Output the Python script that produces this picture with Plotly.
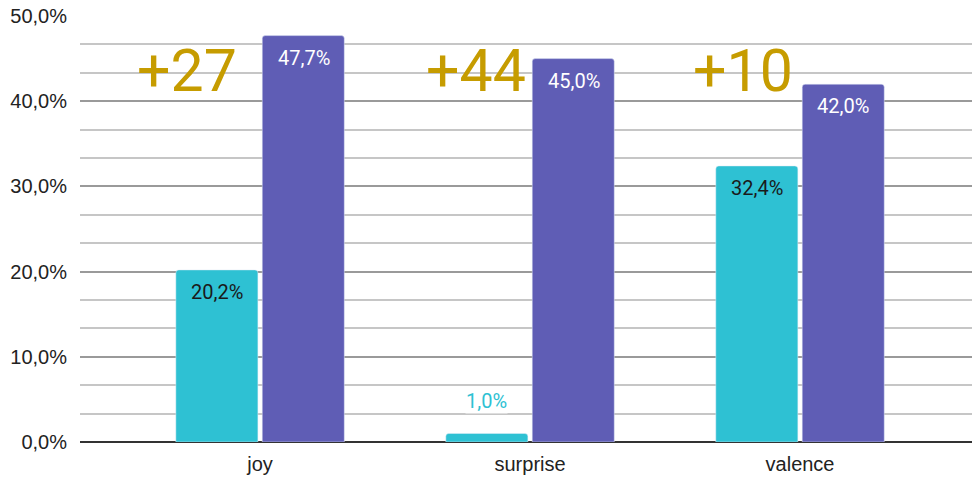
import plotly.graph_objects as go

categories = ["joy", "surprise", "valence"]
before = [20.2, 1.0, 32.4]
after = [47.7, 45.0, 42.0]
deltas = ["+27", "+44", "+10"]
delta_x = [-0.27, -0.20, -0.21]

CYAN = "#2EC1D3"
PURPLE = "#5F5DB5"
GOLD = "#C69C00"
LABEL_FONT = "Roboto"
AXIS_FONT = "Arial, Liberation Sans, sans-serif"

def fmt(v):
    return f"{v:.1f}".replace(".", ",") + "%"

fig = go.Figure()
fig.add_trace(go.Bar(x=categories, y=before, marker_color=CYAN, name="before"))
fig.add_trace(go.Bar(x=categories, y=after, marker_color=PURPLE, name="after"))

annotations = []
off = 0.161
for i, (b, a) in enumerate(zip(before, after)):
    # value labels for the first series
    if b < 5:
        annotations.append(dict(x=i - off, y=b, text=fmt(b), showarrow=False,
                                yshift=32, font=dict(family=LABEL_FONT, size=20, color=CYAN),
                                bgcolor="rgba(255,255,255,0.85)", borderpad=0))
    else:
        annotations.append(dict(x=i - off, y=b, text=fmt(b), showarrow=False,
                                yshift=-22, font=dict(family=LABEL_FONT, size=20, color="#1a1a1a")))
    # value labels for the second series
    annotations.append(dict(x=i + off, y=a, text=fmt(a), showarrow=False,
                            yshift=-22, font=dict(family=LABEL_FONT, size=20, color="white")))
    # difference markers
    annotations.append(dict(x=i + delta_x[i], y=43.6, text=deltas[i], showarrow=False,
                            font=dict(family=LABEL_FONT, size=59, color=GOLD)))

fig.update_layout(
    width=972, height=477,
    margin=dict(l=80, r=0, t=16, b=35),
    plot_bgcolor="white", paper_bgcolor="white",
    showlegend=False,
    barmode="group", bargap=0.36, bargroupgap=0.05,
    barcornerradius=3,
    separators=",.",
    font=dict(family=AXIS_FONT, size=20, color="#222"),
    annotations=annotations,
    xaxis=dict(range=[-0.667, 2.637], showgrid=False, ticks="",
               tickfont=dict(family=AXIS_FONT, size=20, color="#222"), ticklabelstandoff=8),
    yaxis=dict(range=[0, 50], dtick=10, tickformat=".1f", ticksuffix="%",
               showgrid=True, gridcolor="#9a9a9a", gridwidth=1.5,
               zeroline=True, zerolinecolor="#333", zerolinewidth=1.5,
               tickfont=dict(family=AXIS_FONT, size=20, color="#222"), ticklabelstandoff=12,
               minor=dict(dtick=10/3, showgrid=True, gridcolor="#c6c6c6", gridwidth=1.5)),
)

fig.write_html("out.html")
